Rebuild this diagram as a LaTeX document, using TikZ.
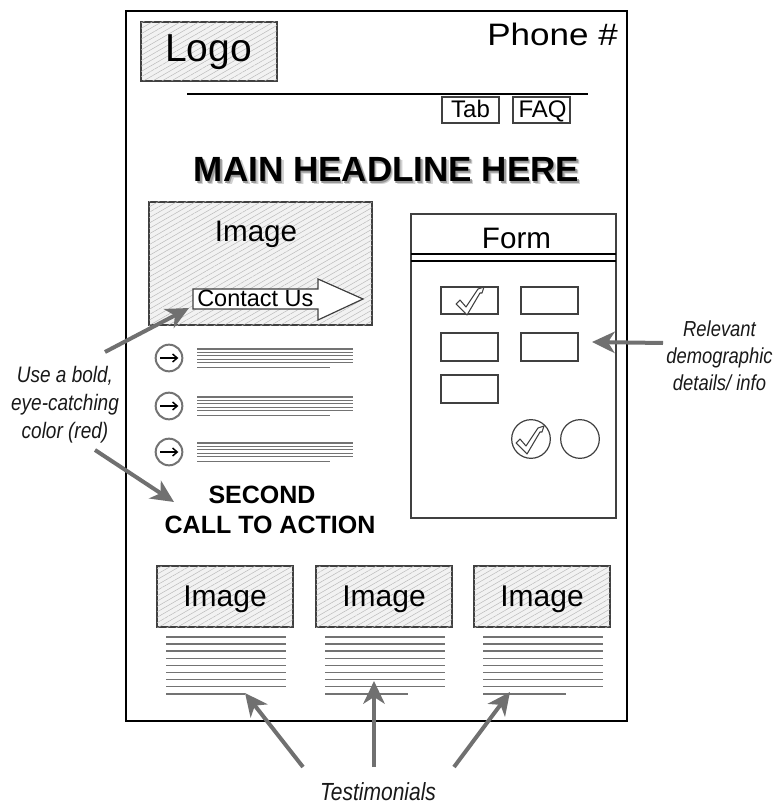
\documentclass[tikz,border=0pt]{standalone}
\usepackage{fontspec}
\setmainfont{Liberation Sans}
\usepackage{graphicx}
\usetikzlibrary{arrows.meta,patterns.meta,fit}
\newcommand\pxf[1]{\fontsize{#1}{#1}\selectfont}
\newcommand\tallline[1]{\scalebox{1}[1.18]{#1}}
\tikzset{
  hatchbox/.style={inner sep=0pt, draw=black!75, line width=0.9pt, fill=black!5,
    postaction={pattern={Lines[angle=30,distance=3.5pt,line width=0.35pt]}, pattern color=black!28}},
  plainbox/.style={inner sep=0pt, draw=black!75, line width=0.9pt},
  txt/.style={inner sep=0pt, anchor=base},
  notetext/.style={inner sep=0pt, anchor=base, align=center, text=black!90},
  callout/.style={draw=black!56, line width=3pt, -{Stealth[length=17pt,width=16pt,inset=5pt]}},
  textline/.style={draw=black!55, line width=0.9pt},
  checkmark/.style={draw=black!75, line width=0.8pt, fill=white, line join=round},
  bulletring/.style={circle, draw=black!55, line width=1.5pt, minimum size=20pt, inner sep=0pt},
  radio/.style={circle, draw=black!75, line width=0.9pt, minimum size=29pt, inner sep=0pt},
}
\begin{document}
\begin{tikzpicture}[x=0.75pt,y=-0.75pt]
\useasboundingbox (0,0) rectangle (780,805);

% page frame
\node[fit={(126,11) (627,721)}, inner sep=0pt, draw=black, line width=1.5pt] (page) {};

% header
\node[hatchbox, fit={(141,22) (277,81)}] (logo) {};
\node[txt, font=\pxf{29.25pt}] (logotext) at (208.5,62) {Logo};
\node[txt, anchor=base west, font=\pxf{23.25pt}] (phone) at (487,46) {\scalebox{1.13}[1]{Phone \#}};
\coordinate (navL) at (187,94);
\coordinate (navR) at (588,94);
\draw[line width=2.2pt] (navL) -- (navR);
\node[plainbox, fit={(442,97) (499,123)}] (tab) {};
\node[txt, font=\pxf{18pt}] (tabtext) at (470.5,118) {Tab};
\node[plainbox, fit={(513,97) (570,123)}] (faq) {};
\node[txt, font=\pxf{18pt}] (faqtext) at (542.5,118) {FAQ};

% headline with shadow (one node)
\node[txt, font=\bfseries\pxf{26.25pt}] (headline) at (386.5,182)
  {\makebox[0pt][l]{\raisebox{-2.2pt}{\hspace{2.2pt}\textcolor{black!18}{MAIN HEADLINE HERE}}}%
   \makebox[0pt][l]{\raisebox{-1.1pt}{\hspace{1.1pt}\textcolor{black!40}{MAIN HEADLINE HERE}}}%
   MAIN HEADLINE HERE};

% hero image with contact button
\node[hatchbox, fit={(149,202) (372,325)}] (hero) {};
\node[txt, font=\pxf{22.2pt}] (herotext) at (256,242) {Image};
\draw[draw=black!75, line width=0.9pt, fill=white, line join=miter]
  (193,289) -- (318,289) -- (318,279) -- (363,299) -- (318,320) -- (318,309) -- (193,309) -- cycle;
\node[txt, anchor=base west, font=\pxf{17.6pt}] (contact) at (197,306) {Contact Us};

% bullets
\foreach \n/\y in {1/358,2/406,3/452}{
  \node[bulletring] (bullet\n) at (169,\y) {};
  \draw[line width=1.1pt, -{Straight Barb[length=3.5pt,width=6pt]}]
    ([xshift=-6.5pt]bullet\n.center) -- ([xshift=7pt]bullet\n.center);
  \foreach \k in {0,...,4}
    \draw[textline] (197,\y-9+3.4*\k) -- (353,\y-9+3.4*\k);
  \draw[textline] (197,\y+9.3) -- (330,\y+9.3);
}

% second call to action
\node[txt, font=\bfseries\pxf{18.75pt}] (second) at (262,503) {SECOND};
\node[txt, font=\bfseries\pxf{18.75pt}] (cta) at (270,533) {CALL TO ACTION};

% form
\node[plainbox, fit={(411,214) (616,518)}] (form) {};
\node[txt, font=\pxf{22.2pt}] (formtext) at (516.5,248) {Form};
\draw[line width=1.1pt] (411,254) -- (616,254);
\draw[line width=1.1pt] (411,261) -- (616,261);
\node[plainbox, fit={(441,287) (498,314)}] (field1) {};
\node[plainbox, fit={(521,287) (578,314)}] (field2) {};
\node[plainbox, fit={(441,333) (498,361)}] (field3) {};
\node[plainbox, fit={(521,333) (578,361)}] (field4) {};
\node[plainbox, fit={(441,375) (498,403)}] (field5) {};
\begin{scope}[shift={(470,301)}]
  \draw[checkmark] (-14,3) -- (-10,-1) -- (-4,6) -- (8,-12) -- (14,-14) -- (12,-8) -- (10,-8) -- (-3,14) -- cycle;
\end{scope}
\node[radio] (radio1) at (531,439) {};
\node[radio] (radio2) at (580,439) {};
\begin{scope}[shift={(530,440)}]
  \draw[checkmark] (-14,3) -- (-10,-1) -- (-4,6) -- (8,-12) -- (14,-14) -- (12,-8) -- (10,-8) -- (-3,14) -- cycle;
\end{scope}

% testimonial images
\node[hatchbox, fit={(157,566) (293,627)}] (timg1) {};
\node[hatchbox, fit={(316,566) (452,627)}] (timg2) {};
\node[hatchbox, fit={(474,566) (610,627)}] (timg3) {};
\node[txt, font=\pxf{22.5pt}] (timgtext1) at (225,606) {Image};
\node[txt, font=\pxf{22.5pt}] (timgtext2) at (384,606) {Image};
\node[txt, font=\pxf{22.5pt}] (timgtext3) at (542,606) {Image};
\foreach \xa/\xb/\xc in {166/286/245, 325/445/408, 483/603/566}{
  \foreach \k in {0,...,7}
    \draw[textline, line width=1.1pt] (\xa,637+7.1*\k) -- (\xb,637+7.1*\k);
  \draw[textline, line width=1.1pt] (\xa,694) -- (\xc,694);
}

% annotations (anchor base = last line's baseline)
\node[notetext, font=\itshape\fontsize{14.25pt}{21pt}\selectfont] (noteleft) at (65,438)
  {\tallline{Use a bold,}\\\tallline{eye-catching}\\\tallline{color (red)}};
\node[notetext, font=\itshape\fontsize{13.8pt}{19.9pt}\selectfont] (noteright) at (719.5,390)
  {\tallline{Relevant}\\\tallline{demographic}\\\tallline{details/ info}};
\node[notetext, font=\itshape\pxf{15.75pt}] (notebottom) at (378,800) {\tallline{Testimonials}};

\coordinate (a1s) at (105,352); \coordinate (a1e) at (189,308);
\coordinate (a2s) at (95,450);  \coordinate (a2e) at (174,502);
\coordinate (a3s) at (663,343); \coordinate (a3e) at (592,342);
\coordinate (t1s) at (303,767); \coordinate (t1e) at (245,693);
\coordinate (t2s) at (374,767); \coordinate (t2e) at (374,681);
\coordinate (t3s) at (454,767); \coordinate (t3e) at (510,692);
\draw[callout] (a1s) -- (a1e);
\draw[callout] (a2s) -- (a2e);
\draw[callout] (a3s) -- (a3e);
\draw[callout] (t1s) -- (t1e);
\draw[callout] (t2s) -- (t2e);
\draw[callout] (t3s) -- (t3e);
\end{tikzpicture}
\end{document}
